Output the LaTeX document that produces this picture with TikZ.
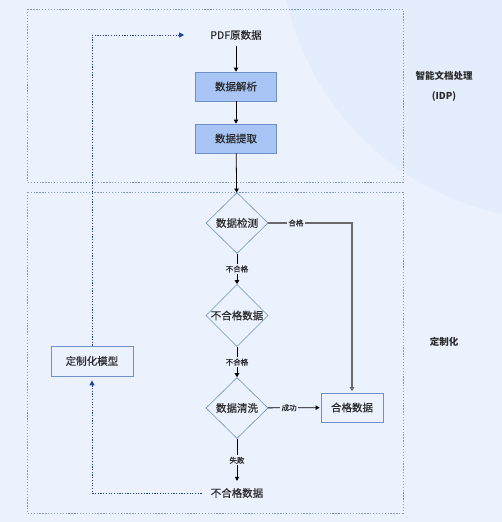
\documentclass[tikz,border=0pt]{standalone}
\usepackage{fontspec}
\setmainfont{Noto Sans CJK SC}
\newfontfamily\medfont{Noto Sans CJK SC}[FakeBold=0.5]
\usetikzlibrary{arrows.meta,shapes.geometric}
\definecolor{bgc}{HTML}{EBF2FE}
\definecolor{blobc}{HTML}{E4EDFC}
\definecolor{framec}{HTML}{7F9CC9}
\definecolor{boxfill}{HTML}{A9C5F5}
\definecolor{boxdraw}{HTML}{6F90C6}
\definecolor{txt}{HTML}{2B2B2B}
\definecolor{fbc}{HTML}{22449A}
\definecolor{okc}{HTML}{6A6A6A}
\tikzset{
  frame/.style={draw=framec, line width=0.6pt, dash pattern=on 1.3pt off 1.6pt},
  bluebox/.style={draw=boxdraw, fill=boxfill, line width=0.8pt, minimum width=81pt, minimum height=29pt, inner sep=0pt, font=\medfont\fontsize{10.5}{12}\selectfont, text=txt},
  plainbox/.style={draw=boxdraw, fill=bgc, line width=0.8pt, minimum width=62pt, minimum height=29pt, inner sep=0pt, font=\medfont\fontsize{10.5}{12}\selectfont, text=txt},
  dec/.style={diamond, draw=boxdraw, fill=bgc, line width=0.6pt, minimum width=62pt, minimum height=61pt, inner sep=0pt, font=\medfont\fontsize{10.5}{12}\selectfont, text=txt},
  plaintext/.style={inner sep=1pt, font=\medfont\fontsize{10.5}{12}\selectfont, text=txt},
  sidetext/.style={inner sep=1pt, font=\fontsize{9.5}{11}\selectfont\bfseries, text=txt},
  lbl/.style={fill=bgc, inner sep=1.5pt, font=\medfont\fontsize{7.5}{9}\selectfont, text=txt},
  arr/.style={draw=black, line width=0.8pt, -{Triangle[length=4pt,width=4.5pt]}},
  okline/.style={draw=okc, line width=1.3pt, -{Triangle[length=4pt,width=4.5pt]}},
  fb/.style={draw=fbc, line width=1pt, dash pattern=on 1.2pt off 1.5pt, -{Triangle[length=5pt,width=5pt]}}
}
\begin{document}
\begin{tikzpicture}[x=1pt,y=-1pt]
\useasboundingbox (0,0) rectangle (502,522);
\fill[bgc] (0,0) rectangle (502,522);
\begin{scope}
  \clip (0,0) rectangle (502,522);
  \fill[blobc] (560,-60) circle[radius=280pt];
\end{scope}
% frames
\draw[frame] (27,9) rectangle (403,182);
\draw[frame] (27,192) rectangle (403,513);
% side labels
\node[sidetext] (idp1) at (444,76) {智能文档处理};
\node[sidetext] (idp2) at (444,96) {(IDP)};
\node[sidetext] (cust) at (444,342) {定制化};
% nodes
\node[plaintext, minimum height=22pt] (pdf) at (236,35) {PDF原数据};
\node[bluebox] (parse) at (236,86.5) {数据解析};
\node[bluebox] (extract) at (236,138.5) {数据提取};
\node[dec] (check) at (237,223) {数据检测};
\node[dec] (bad1) at (237,315.5) {不合格数据};
\node[dec] (clean) at (237,408) {数据清洗};
\node[plainbox] (good) at (352,407.5) {合格数据};
\node[plaintext, minimum height=22pt] (badout) at (237,493) {不合格数据};
\node[plainbox, minimum width=82pt, minimum height=30pt] (model) at (92,361) {定制化模型};
% edges
\draw[arr] (pdf) -- (parse);
\draw[arr] (parse) -- (extract);
\draw[arr] (extract) -- (check);
\draw[arr] (check) -- node[lbl] {不合格} (bad1);
\draw[arr] (bad1) -- node[lbl] {不合格} (clean);
\draw[arr, shorten >=1pt] (clean) -- node[lbl] {失败} (badout);
\draw[arr, shorten >=1pt] (clean) -- node[lbl, pos=0.4] {成功} (good);
\draw[okline, shorten >=1.5pt] (check.east) -- node[lbl, pos=0.33] {合格} (check.east -| good) -- (good.north);
\draw[fb, shorten >=4pt] ([xshift=-8pt]badout.west) -| (model.south);
\draw[fb, shorten >=25pt] (model.north) |- (pdf.west);
\end{tikzpicture}
\end{document}
